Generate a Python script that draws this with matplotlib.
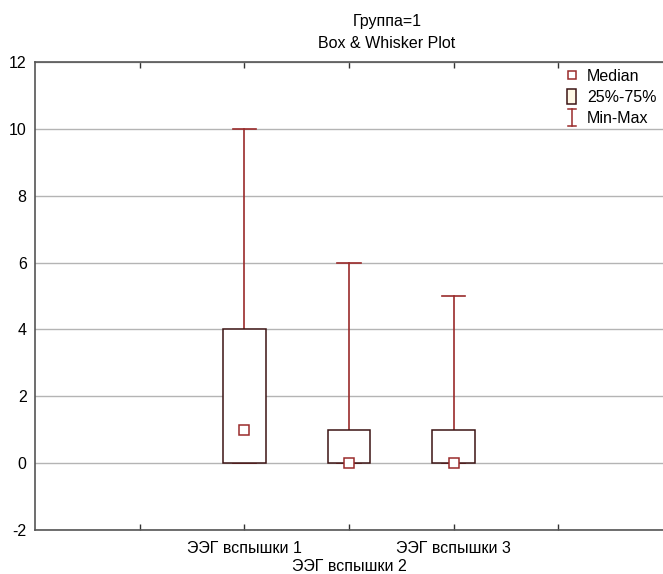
import matplotlib
matplotlib.use('Agg')
import matplotlib.pyplot as plt
from matplotlib.patches import Rectangle
from matplotlib.lines import Line2D
from matplotlib.legend_handler import HandlerBase

plt.rcParams['font.family'] = ['Liberation Sans', 'DejaVu Sans']

# ---- data ----
categories = ['ЭЭГ вспышки 1', 'ЭЭГ вспышки 2', 'ЭЭГ вспышки 3']
medians = [1, 0, 0]
q1 = [0, 0, 0]
q3 = [4, 1, 1]
mins = [0, 0, 0]
maxs = [10, 6, 5]
yticks = [-2, 0, 2, 4, 6, 8, 10, 12]
title_lines = ['Группа=1', 'Box & Whisker Plot']
legend_labels = ['Median', '25%-75%', 'Min-Max']

WHISK = '#9a2b2b'
BOXE = '#3c1414'
FS = 11.5

fig = plt.figure(figsize=(6.63, 5.74), dpi=100)
ax = fig.add_axes([35/663, 44/574, 628/663, 468/574])

positions = list(range(1, len(categories) + 1))
stats = [dict(med=m, q1=a, q3=b, whislo=lo, whishi=hi, fliers=[])
         for m, a, b, lo, hi in zip(medians, q1, q3, mins, maxs)]
ax.bxp(stats, positions=positions, widths=0.41, capwidths=0.22,
       showfliers=False, patch_artist=True,
       boxprops=dict(facecolor='white', edgecolor=BOXE, linewidth=1.1, zorder=3),
       whiskerprops=dict(color=WHISK, linewidth=1.2, zorder=2),
       capprops=dict(color=WHISK, linewidth=1.2, zorder=2),
       medianprops=dict(visible=False))
ax.plot(positions, medians, 's', ls='none', mfc='white', mec=WHISK,
        ms=6.5, mew=1.1, zorder=4)

ax.set_xlim(-1, 5)
ax.set_ylim(-2, 12)
ax.set_yticks(yticks)
ax.set_yticklabels([str(v) for v in yticks], fontsize=FS)
ax.yaxis.grid(True, color='#b4b4b4', linewidth=1)
ax.set_axisbelow(True)
ax.tick_params(axis='y', length=0, pad=6)

ax.set_xticks([0] + positions + [len(categories) + 1])
xl = [''] + [c if i % 2 == 0 else '\n' + c for i, c in enumerate(categories)] + ['']
ax.set_xticklabels(xl, fontsize=FS)
for t in ax.get_xticklabels():
    t.set_linespacing(1.25)
ax.tick_params(axis='x', direction='in', length=4, width=1, color='#333333', pad=8)
ax.tick_params(axis='x', which='major', top=True, labeltop=False)

for s in ['left', 'top', 'bottom']:
    ax.spines[s].set_color('#555555')
    ax.spines[s].set_linewidth(1.2)
ax.spines['right'].set_visible(False)

fig.text(387/663, 1 - 14/574, '\n'.join(title_lines), ha='center', va='top',
         fontsize=FS, linespacing=1.55)


class RectHandler(HandlerBase):
    def create_artists(self, legend, orig_handle, xdescent, ydescent, width, height,
                       fontsize, trans):
        w, h = 6.5, 11
        cx = width / 2 - xdescent
        cy = height / 2 - ydescent
        return [Rectangle((cx - w/2, cy - h/2), w, h, facecolor='#fff8e6',
                          edgecolor=BOXE, lw=1.1, transform=trans)]


class MinMaxHandler(HandlerBase):
    def create_artists(self, legend, orig_handle, xdescent, ydescent, width, height,
                       fontsize, trans):
        w, h = 6, 12
        cx = width / 2 - xdescent
        cy = height / 2 - ydescent
        kw = dict(color=WHISK, lw=1.1, transform=trans)
        return [Line2D([cx, cx], [cy - h/2, cy + h/2], **kw),
                Line2D([cx - w/2, cx + w/2], [cy + h/2, cy + h/2], **kw),
                Line2D([cx - w/2, cx + w/2], [cy - h/2, cy - h/2], **kw)]


class _MM:
    pass


h_med = Line2D([], [], marker='s', ls='none', mfc='white', mec=WHISK, ms=6, mew=1.1)
h_box = Rectangle((0, 0), 1, 1)
h_mm = _MM()
ax.legend([h_med, h_box, h_mm], legend_labels,
          handler_map={Rectangle: RectHandler(), _MM: MinMaxHandler()},
          loc='upper right', bbox_to_anchor=(1.0, 1.0), frameon=False,
          fontsize=FS, handlelength=0.7, handleheight=1.0, handletextpad=0.6,
          labelspacing=0.33, borderaxespad=0.0)

fig.savefig('out.png', dpi=100)
